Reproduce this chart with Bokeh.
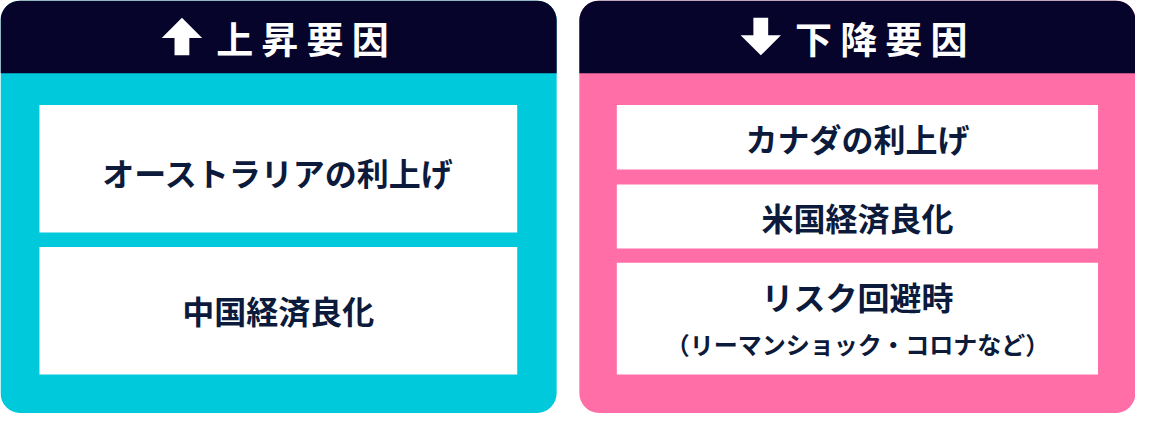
from bokeh.plotting import figure
from bokeh.models import Range1d, ColumnDataSource
from bokeh.core.properties import value
from bokeh.embed import file_html
from bokeh.resources import INLINE

# ---- content ----
headers = ["上昇要因", "下降要因"]
arrow_dirs = ["up", "down"]
up_factors = ["オーストラリアの利上げ", "中国経済良化"]
down_factors = ["カナダの利上げ", "米国経済良化", "リスク回避時"]
down_note = "（リーマンショック・コロナなど）"

# ---- colours ----
NAVY = "#06042b"
CYAN = "#00c9dc"
PINK = "#ff6ea6"
TEXT = "#0c1a3b"
FONT = "Noto Sans CJK JP"

# ---- layout (reference pixel space, y measured downward) ----
W, H = 1151, 429
panel_left = [0, 587]
panel_w = 564
panel_bottom = 428.5
header_h = 75.5
radius = 20
box_inset = 39.5
panel_colors = [CYAN, PINK]
up_boxes = [(108.5, 241), (256, 388.5)]
up_text_y = [178, 321]
down_boxes = [(108.5, 175.5), (191, 257.5), (272.5, 388.5)]
down_text_y = [143, 225, 307]
note_y = 356

def Y(y):
    return H - y

p = figure(width=1135, height=413, x_range=Range1d(0, W), y_range=Range1d(0, H),
           output_backend="svg", toolbar_location=None, min_border=0,
           background_fill_color="white", border_fill_color="white")
p.axis.visible = False
p.grid.visible = False
p.outline_line_color = None

for k in range(2):
    L = panel_left[k]
    R = L + panel_w
    cx = (L + R) / 2
    # body
    p.quad(left=[L], right=[R], top=[Y(0)], bottom=[Y(panel_bottom)],
           fill_color=panel_colors[k], line_color=None, border_radius=radius)
    # header
    p.quad(left=[L], right=[R], top=[Y(0)], bottom=[Y(header_h)],
           fill_color=NAVY, line_color=None, border_radius=(radius, radius, 0, 0))
    # arrow
    ax = cx - 98
    hw, sw = 20.5, 7.5
    if arrow_dirs[k] == "up":
        xs = [ax, ax + hw, ax + sw, ax + sw, ax - sw, ax - sw, ax - hw]
        ys = [18, 39, 39, 57, 57, 39, 39]
    else:
        xs = [ax, ax + hw, ax + sw, ax + sw, ax - sw, ax - sw, ax - hw]
        ys = [57, 36, 36, 18, 18, 36, 36]
    p.patch(x=xs, y=[Y(v) for v in ys], fill_color="white", line_color=None)
    # header characters (letter-spaced)
    chars = list(headers[k])
    p.text(x=[cx - 44.5 + i * 45.8 for i in range(len(chars))],
           y=[Y(38.5)] * len(chars), text=chars,
           text_font=value(FONT), text_font_size="37px", text_font_style="bold",
           text_color="white", text_align="center", text_baseline="middle")

# boxes and labels
bl = panel_left[0] + box_inset
br = panel_left[0] + panel_w - box_inset - 0.5
p.quad(left=[bl] * len(up_boxes), right=[br] * len(up_boxes),
       top=[Y(t) for t, b in up_boxes], bottom=[Y(b) for t, b in up_boxes],
       fill_color="white", line_color=None)
p.text(x=[(bl + br) / 2] * len(up_factors), y=[Y(v) for v in up_text_y], text=up_factors,
       text_font=value(FONT), text_font_size="32px", text_font_style="bold",
       text_color=TEXT, text_align="center", text_baseline="middle")

bl2 = panel_left[1] + box_inset - 1.5
br2 = panel_left[1] + panel_w - box_inset + 1.5
p.quad(left=[bl2] * len(down_boxes), right=[br2] * len(down_boxes),
       top=[Y(t) for t, b in down_boxes], bottom=[Y(b) for t, b in down_boxes],
       fill_color="white", line_color=None)
p.text(x=[(bl2 + br2) / 2] * len(down_factors), y=[Y(v) for v in down_text_y], text=down_factors,
       text_font=value(FONT), text_font_size="32px", text_font_style="bold",
       text_color=TEXT, text_align="center", text_baseline="middle")
p.text(x=[(bl2 + br2) / 2], y=[Y(note_y)], text=[down_note],
       text_font=value(FONT), text_font_size="24px", text_font_style="bold",
       text_color=TEXT, text_align="center", text_baseline="middle")

open("out.html", "w").write(file_html(p, INLINE))
